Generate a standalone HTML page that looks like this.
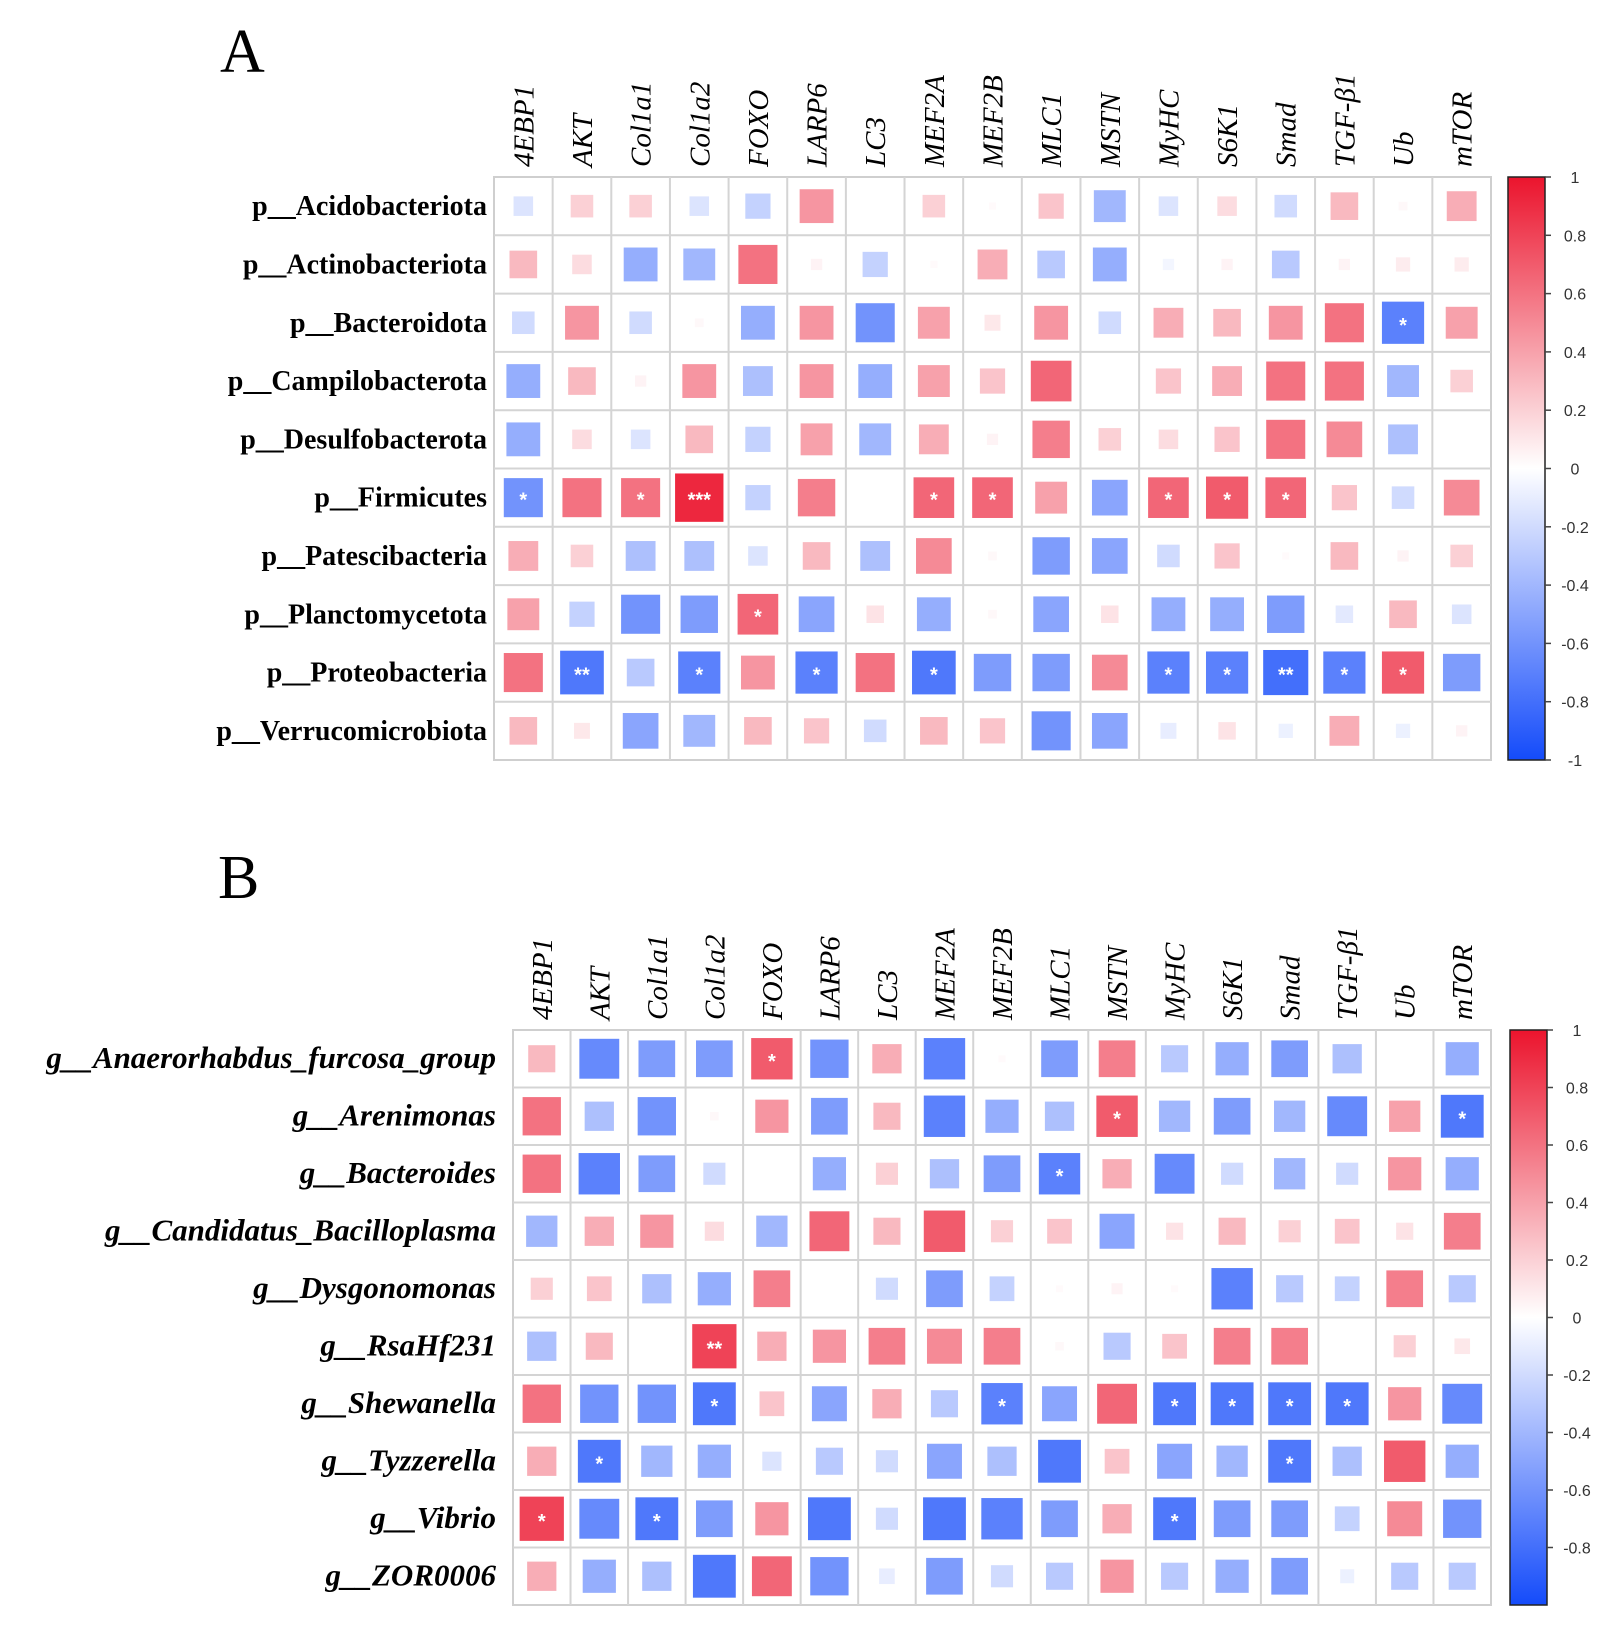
<!DOCTYPE html>
<html><head><meta charset="utf-8">
<style>
html,body{margin:0;padding:0;background:#fff;}
svg{display:block;}
</style></head>
<body>
<svg id="chart" width="1624" height="1635" xmlns="http://www.w3.org/2000/svg"></svg>
<script>
const genes = ["4EBP1","AKT","Col1a1","Col1a2","FOXO","LARP6","LC3","MEF2A","MEF2B","MLC1","MSTN","MyHC","S6K1","Smad","TGF-β1","Ub","mTOR"];
const phylaA = ["p__Acidobacteriota","p__Actinobacteriota","p__Bacteroidota","p__Campilobacterota","p__Desulfobacterota","p__Firmicutes","p__Patescibacteria","p__Planctomycetota","p__Proteobacteria","p__Verrucomicrobiota"];
const valuesA = [
[-0.15,0.2,0.2,-0.15,-0.25,0.45,0,0.2,0.02,0.25,-0.4,-0.15,0.15,-0.2,0.3,0.03,0.35],
[0.3,0.15,-0.45,-0.4,0.6,0.05,-0.25,0.02,0.35,-0.3,-0.45,-0.05,0.05,-0.3,0.05,0.08,0.08],
[-0.2,0.45,-0.2,0.03,-0.45,0.45,-0.6,0.4,0.1,0.45,-0.2,0.35,0.3,0.45,0.6,-0.7,0.4],
[-0.45,0.3,0.05,0.45,-0.35,0.45,-0.45,0.4,0.25,0.65,0,0.25,0.35,0.6,0.6,-0.4,0.2],
[-0.45,0.15,-0.15,0.3,-0.25,0.4,-0.4,0.35,0.05,0.55,0.2,0.15,0.25,0.6,0.5,-0.35,0],
[-0.6,0.6,0.6,0.92,-0.25,0.55,0,0.65,0.65,0.4,-0.5,0.65,0.7,0.65,0.25,-0.2,0.5],
[0.35,0.2,-0.35,-0.35,-0.15,0.3,-0.35,0.5,0.03,-0.55,-0.5,-0.2,0.25,0.02,0.3,0.05,0.2],
[0.4,-0.25,-0.6,-0.55,0.65,-0.5,0.12,-0.45,0.03,-0.5,0.12,-0.45,-0.45,-0.55,-0.12,0.3,-0.15],
[0.6,-0.75,-0.3,-0.7,0.45,-0.7,0.6,-0.75,-0.55,-0.55,0.5,-0.7,-0.7,-0.8,-0.7,0.7,-0.55],
[0.3,0.1,-0.5,-0.4,0.3,0.25,-0.2,0.3,0.25,-0.6,-0.5,-0.1,0.12,-0.08,0.35,-0.08,0.05]];
const sigA = [
["","","","","","","","","","","","","","","","",""],
["","","","","","","","","","","","","","","","",""],
["","","","","","","","","","","","","","","","*",""],
["","","","","","","","","","","","","","","","",""],
["","","","","","","","","","","","","","","","",""],
["*","","*","***","","","","*","*","","","*","*","*","","",""],
["","","","","","","","","","","","","","","","",""],
["","","","","*","","","","","","","","","","","",""],
["","**","","*","","*","","*","","","","*","*","**","*","*",""],
["","","","","","","","","","","","","","","","",""]];
const generaB = ["g__Anaerorhabdus_furcosa_group","g__Arenimonas","g__Bacteroides","g__Candidatus_Bacilloplasma","g__Dysgonomonas","g__RsaHf231","g__Shewanella","g__Tyzzerella","g__Vibrio","g__ZOR0006"];
const valuesB = [
[0.3,-0.65,-0.55,-0.55,0.7,-0.6,0.35,-0.7,0.02,-0.55,0.55,-0.3,-0.45,-0.55,-0.35,0,-0.45],
[0.6,-0.35,-0.6,0.03,0.45,-0.55,0.3,-0.7,-0.45,-0.35,0.7,-0.4,-0.55,-0.4,-0.65,0.4,-0.75],
[0.6,-0.7,-0.55,-0.2,0,-0.45,0.2,-0.35,-0.55,-0.7,0.35,-0.65,-0.2,-0.4,-0.2,0.45,-0.45],
[-0.4,0.35,0.45,0.15,-0.4,0.65,0.3,0.7,0.2,0.25,-0.5,0.12,0.3,0.2,0.25,0.12,0.55],
[0.2,0.25,-0.35,-0.45,0.55,0,-0.2,-0.55,-0.25,0.02,0.05,0.02,-0.7,-0.3,-0.25,0.55,-0.3],
[-0.35,0.3,0,0.8,0.35,0.45,0.55,0.5,0.55,0.03,-0.3,0.25,0.55,0.55,0,0.2,0.1],
[0.6,-0.6,-0.6,-0.75,0.25,-0.5,0.35,-0.3,-0.7,-0.5,0.65,-0.75,-0.75,-0.75,-0.75,0.45,-0.65],
[0.35,-0.75,-0.4,-0.45,-0.15,-0.3,-0.2,-0.5,-0.35,-0.75,0.25,-0.5,-0.4,-0.75,-0.35,0.7,-0.45],
[0.8,-0.65,-0.75,-0.55,0.45,-0.75,-0.2,-0.75,-0.7,-0.55,0.35,-0.75,-0.55,-0.55,-0.25,0.5,-0.6],
[0.35,-0.45,-0.35,-0.75,0.65,-0.6,-0.1,-0.55,-0.2,-0.3,0.45,-0.3,-0.45,-0.55,-0.08,-0.3,-0.3]];
const sigB = [
["","","","","*","","","","","","","","","","","",""],
["","","","","","","","","","","*","","","","","","*"],
["","","","","","","","","","*","","","","","","",""],
["","","","","","","","","","","","","","","","",""],
["","","","","","","","","","","","","","","","",""],
["","","","**","","","","","","","","","","","","",""],
["","","","*","","","","","*","","","*","*","*","*","",""],
["","*","","","","","","","","","","","","*","","",""],
["*","","*","","","","","","","","","*","","","","",""],
["","","","","","","","","","","","","","","","",""]];
const ticksA = [1,0.8,0.6,0.4,0.2,0,-0.2,-0.4,-0.6,-0.8,-1];
const ticksB = [1,0.8,0.6,0.4,0.2,0,-0.2,-0.4,-0.6,-0.8];

const NS="http://www.w3.org/2000/svg";
const svg=document.getElementById('chart');
function mk(tag,attrs,parent){const e=document.createElementNS(NS,tag);for(const k in attrs)e.setAttribute(k,attrs[k]);(parent||svg).appendChild(e);return e;}
function color(r){
  const t=Math.min(1,Math.abs(r));
  let c;
  if(r>=0){c=[255+(235-255)*t,255+(20-255)*t,255+(45-255)*t];}
  else{c=[255+(20-255)*t,255+(75-255)*t,255+(250-255)*t];}
  return 'rgb('+c.map(Math.round).join(',')+')';
}
function panel(cfg){
  const {x0,y0,x1,y1,rows,vals,sig,ticks,letter,lx,ly,italic,labelRight,colLabelY,cbX,tag}=cfg;
  const g=mk('g',{});
  
  
  const nc=genes.length,nr=rows.length;
  const cw=(x1-x0)/nc,ch=(y1-y0)/nr;
  const xs=i=>x0+i*cw, ys=j=>y0+j*ch;
  const L=mk('text',{x:lx,y:ly,'font-family':'Liberation Serif, serif','font-size':62},g);
  L.textContent=letter;
  
  
  mk('rect',{x:x0,y:y0,width:x1-x0,height:y1-y0,fill:'#fff',stroke:'#cfcfcf','stroke-width':2},g);
  for(let i=1;i<nc;i++)mk('line',{x1:xs(i),y1:y0,x2:xs(i),y2:y1,stroke:'#d4d4d4','stroke-width':2},g);
  for(let j=1;j<nr;j++)mk('line',{x1:x0,y1:ys(j),x2:x1,y2:ys(j),stroke:'#d4d4d4','stroke-width':2},g);
  genes.forEach((gname,i)=>{
    const cx=xs(i)+cw/2;
    const t=mk('text',{x:0,y:0,transform:`translate(${cx+10},${colLabelY}) rotate(-90)`,'font-family':'Liberation Serif, serif','font-size':29,'font-style':'italic'},g);
    t.textContent=gname;
    
    
  });
  rows.forEach((rn,j)=>{
    const t=mk('text',{x:labelRight,y:ys(j)+ch/2+9,'text-anchor':'end','font-family':'Liberation Serif, serif','font-size':italic?31:28,'font-weight':'bold','font-style':italic?'italic':'normal'},g);
    t.textContent=rn;
    
    
    vals[j].forEach((v,i)=>{
      const s=Math.sqrt(Math.abs(v))*cw*0.86;
      if(s<1)return;
      const r=mk('rect',{x:xs(i)+cw/2-s/2,y:ys(j)+ch/2-s/2,width:s,height:s,fill:color(v)},g);
      
      
      const st=sig[j][i];
      if(st){
        const tx=mk('text',{x:xs(i)+cw/2,y:ys(j)+ch/2+9,'text-anchor':'middle','font-family':'Liberation Sans, sans-serif','font-size':20,'font-weight':'bold',fill:'#fff'},g);
        tx.textContent=st;
        
        
      }
    });
  });
  const id='grad'+tag;
  const defs=mk('defs',{},g);
  const lg=mk('linearGradient',{id:id,x1:0,y1:0,x2:0,y2:1},defs);
  [[0,1],[0.25,0.5],[0.5,0],[0.75,-0.5],[1,-1]].forEach(([o,v])=>mk('stop',{offset:o,'stop-color':color(v)},lg));
  const cb=mk('rect',{x:cbX,y:y0,width:37,height:y1-y0,fill:`url(#${id})`,stroke:'#222','stroke-width':1.5},g);
  
  
  const cy=v=>y0+(1-v)/2*(y1-y0);
  ticks.forEach(v=>{
    mk('line',{x1:cbX+37,y1:cy(v),x2:cbX+43,y2:cy(v),stroke:'#444','stroke-width':1.5},g);
    const t=mk('text',{x:cbX+67,y:cy(v)+6,'text-anchor':'middle','font-family':'Liberation Sans, sans-serif','font-size':16,fill:'#333'},g);
    t.textContent=(v<0?'-':'')+String(Math.abs(v));
    
    
  });
}
panel({x0:494,y0:177,x1:1491,y1:760,rows:phylaA,vals:valuesA,sig:sigA,ticks:ticksA,letter:'A',lx:220,ly:72,italic:false,labelRight:487,colLabelY:167,cbX:1508,tag:'a'});
panel({x0:513,y0:1030,x1:1491,y1:1605,rows:generaB,vals:valuesB,sig:sigB,ticks:ticksB,letter:'B',lx:218,ly:898,italic:true,labelRight:496,colLabelY:1020,cbX:1510,tag:'b'});
</script>
</body></html>
